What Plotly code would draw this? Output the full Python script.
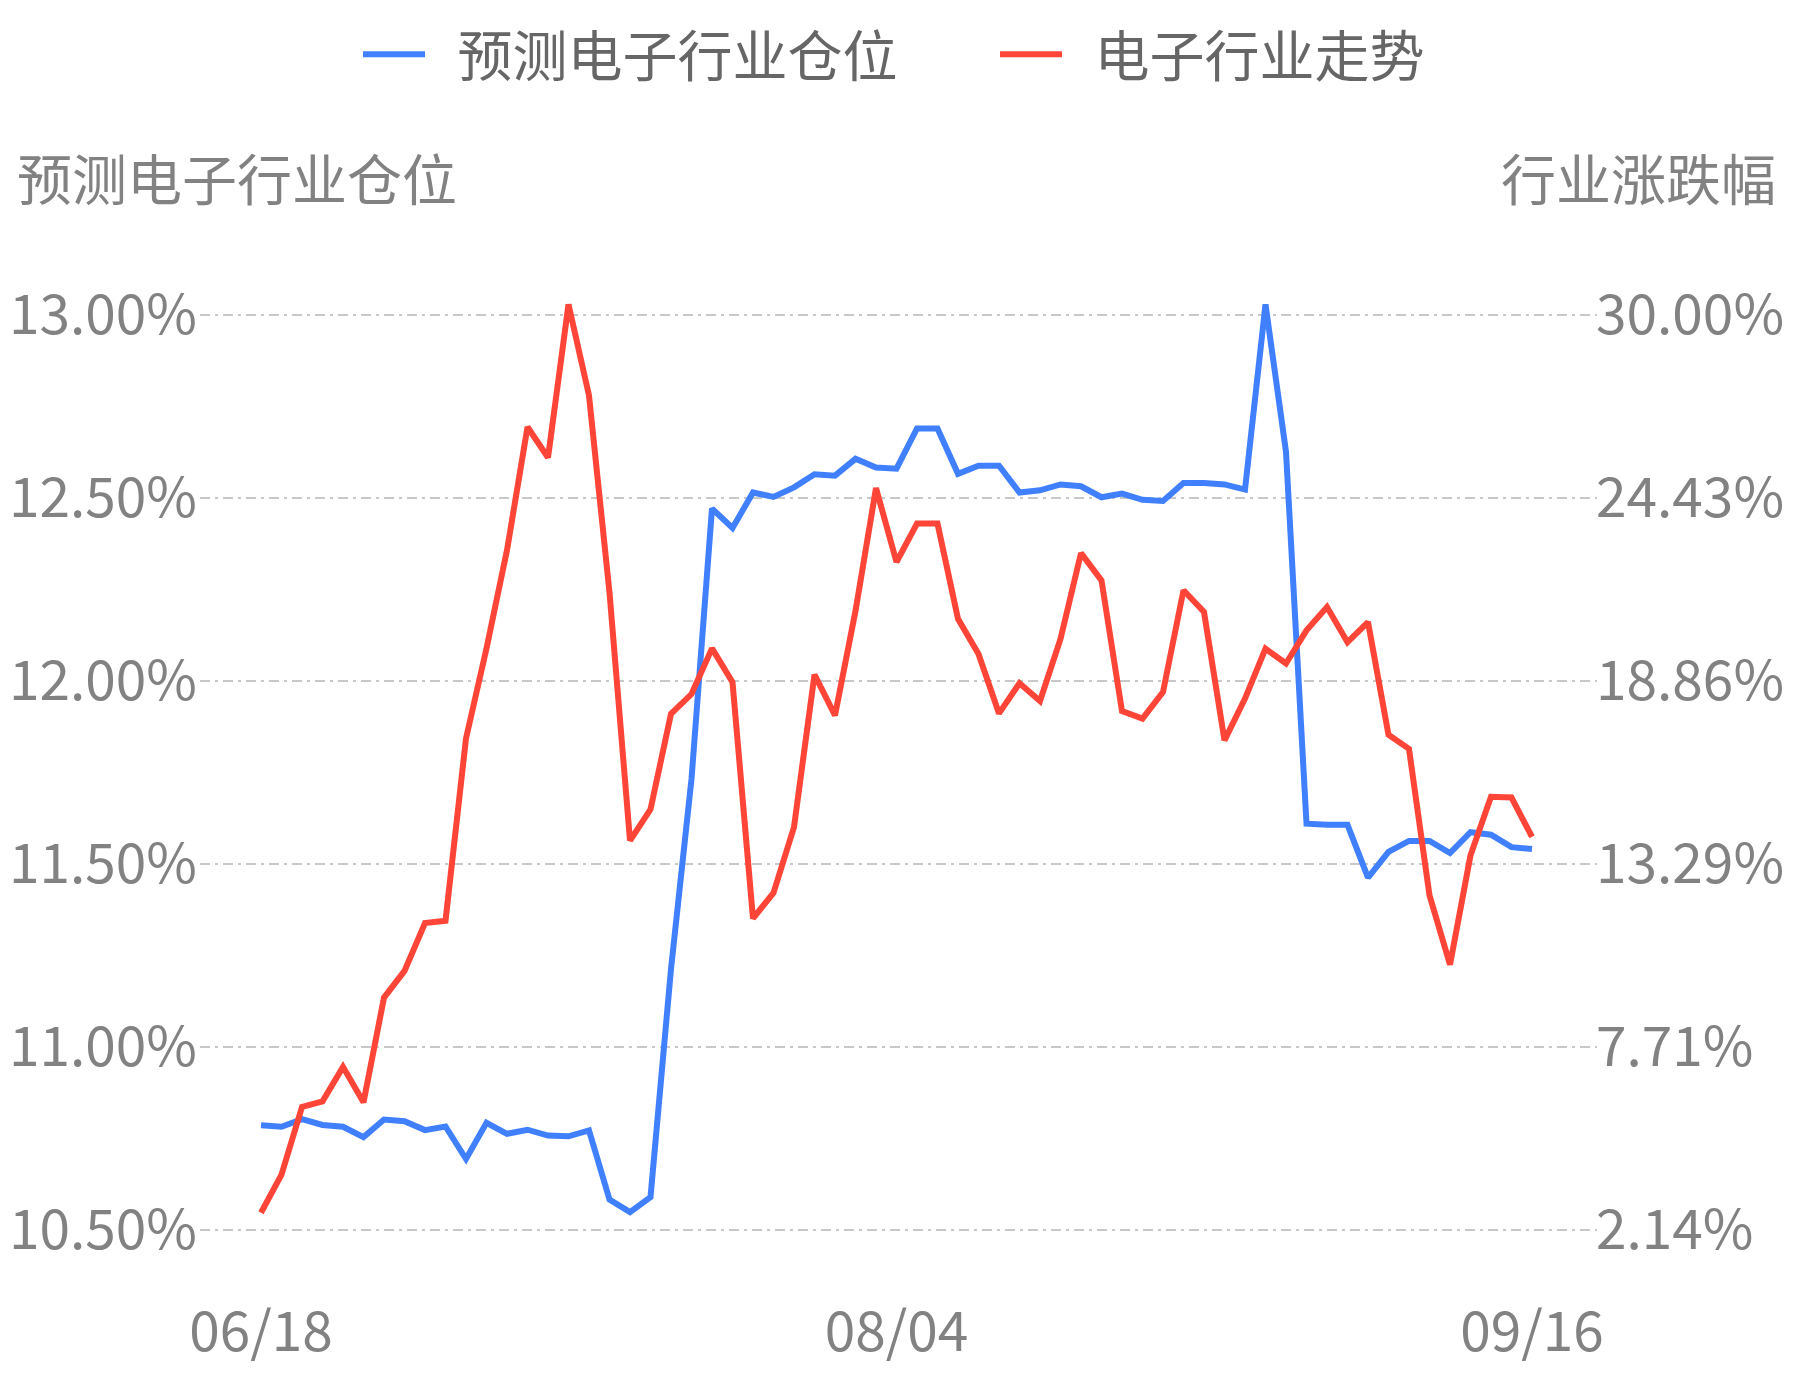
import plotly.graph_objects as go

# trading days 2020-06-18 .. 2020-09-16
dates = [
    "06/18", "06/19", "06/22", "06/23", "06/24", "06/29", "06/30",
    "07/01", "07/02", "07/03", "07/06", "07/07", "07/08", "07/09", "07/10",
    "07/13", "07/14", "07/15", "07/16", "07/17", "07/20", "07/21", "07/22",
    "07/23", "07/24", "07/27", "07/28", "07/29", "07/30", "07/31",
    "08/03", "08/04", "08/05", "08/06", "08/07", "08/10", "08/11", "08/12",
    "08/13", "08/14", "08/17", "08/18", "08/19", "08/20", "08/21", "08/24",
    "08/25", "08/26", "08/27", "08/28", "08/31", "09/01", "09/02", "09/03",
    "09/04", "09/07", "09/08", "09/09", "09/10", "09/11", "09/14", "09/15",
    "09/16",
]

# 预测电子行业仓位 (%), left axis
position = [
    10.786, 10.782, 10.803, 10.787, 10.782, 10.754, 10.802, 10.797, 10.773,
    10.783, 10.694, 10.793, 10.763, 10.774, 10.758, 10.756, 10.772, 10.583,
    10.549, 10.590, 11.213, 11.732, 12.471, 12.418, 12.515, 12.503, 12.529,
    12.565, 12.561, 12.607, 12.583, 12.580, 12.690, 12.690, 12.566, 12.588,
    12.588, 12.515, 12.521, 12.537, 12.532, 12.502, 12.512, 12.495, 12.492,
    12.541, 12.541, 12.537, 12.523, 13.029, 12.626, 11.610, 11.607, 11.607,
    11.463, 11.533, 11.563, 11.563, 11.530, 11.587, 11.580, 11.546, 11.541,
]

# 电子行业走势 (%), right axis
trend = [
    2.67, 3.83, 5.89, 6.06, 7.11, 6.03, 9.22, 10.03, 11.49, 11.56, 17.11,
    19.85, 22.84, 26.59, 25.66, 30.32, 27.55, 21.55, 14.00, 14.95, 17.86,
    18.46, 19.85, 18.82, 11.63, 12.41, 14.41, 19.05, 17.81, 20.99, 24.73,
    22.48, 23.65, 23.65, 20.75, 19.68, 17.87, 18.79, 18.25, 20.14, 22.75,
    21.92, 17.94, 17.71, 18.52, 21.62, 20.96, 17.05, 18.32, 19.84, 19.39,
    20.40, 21.11, 20.04, 20.65, 17.22, 16.79, 12.33, 10.22, 13.55, 15.33,
    15.31, 14.11,
]

left_ticks = [10.5, 11.0, 11.5, 12.0, 12.5, 13.0]
left_labels = ["10.50%", "11.00%", "11.50%", "12.00%", "12.50%", "13.00%"]
right_ticks = [2.1428, 7.7142, 13.2856, 18.857, 24.4284, 30.0]
right_labels = ["2.14%", "7.71%", "13.29%", "18.86%", "24.43%", "30.00%"]
x_ticks = ["06/18", "08/04", "09/16"]

FONT = "Noto Sans CJK SC"
AXIS_GREY = "#828282"
GRID = "#c8c8c8"
GAP = "\u2002"  # a bit of room between legend line and its label

fig = go.Figure()

fig.add_trace(go.Scatter(
    x=dates, y=position, name=GAP + "预测电子行业仓位", mode="lines",
    line=dict(color="#4080ff", width=6),
    yaxis="y",
))
fig.add_trace(go.Scatter(
    x=dates, y=trend, name=GAP + "电子行业走势", mode="lines",
    line=dict(color="#ff4538", width=6),
    yaxis="y2",
))

# page body has an 8px margin, so the figure is 16px smaller than the window
fig.update_layout(
    width=1777, height=1364,
    margin=dict(l=192, r=188, t=276.5, b=110, autoexpand=False),
    paper_bgcolor="white", plot_bgcolor="white",
    font=dict(family=FONT, size=55, color=AXIS_GREY),
    showlegend=True,
    legend=dict(
        orientation="h", x=0.1131, xanchor="left", y=1.2358, yanchor="middle",
        font=dict(size=55, color="#666666"), itemwidth=62,
        entrywidth=560, entrywidthmode="pixels",
    ),
    xaxis=dict(
        type="category", range=[-2.976, 65.171], automargin=False,
        tickmode="array", tickvals=x_ticks, ticktext=x_ticks,
        showgrid=False, zeroline=False, showline=False, ticks="", ticklen=0,
        ticklabelstandoff=33,
        tickfont=dict(size=55, color=AXIS_GREY),
    ),
    yaxis=dict(
        range=[10.41266, 13.08188], automargin=False,
        tickmode="array", tickvals=left_ticks, ticktext=left_labels,
        showgrid=True, gridcolor=GRID, gridwidth=2, griddash="10px,5px,3px,5px",
        zeroline=False, showline=False, ticks="", ticklen=0,
        ticklabelstandoff=2,
        tickfont=dict(size=55, color=AXIS_GREY),
    ),
    yaxis2=dict(
        range=[1.1696, 30.9124], overlaying="y", side="right", automargin=False,
        tickmode="array", tickvals=right_ticks, ticktext=right_labels,
        showgrid=False, zeroline=False, showline=False, ticks="", ticklen=0,
        ticklabelstandoff=-2,
        tickfont=dict(size=55, color=AXIS_GREY),
    ),
    annotations=[
        dict(text="预测电子行业仓位", xref="paper", yref="paper",
             x=-0.1324, y=1.112, xanchor="left", yanchor="middle",
             showarrow=False, font=dict(size=55, color=AXIS_GREY)),
        dict(text="行业涨跌幅", xref="paper", yref="paper",
             x=1.1296, y=1.112, xanchor="right", yanchor="middle",
             showarrow=False, font=dict(size=55, color=AXIS_GREY)),
    ],
)

fig.write_html("out.html")
